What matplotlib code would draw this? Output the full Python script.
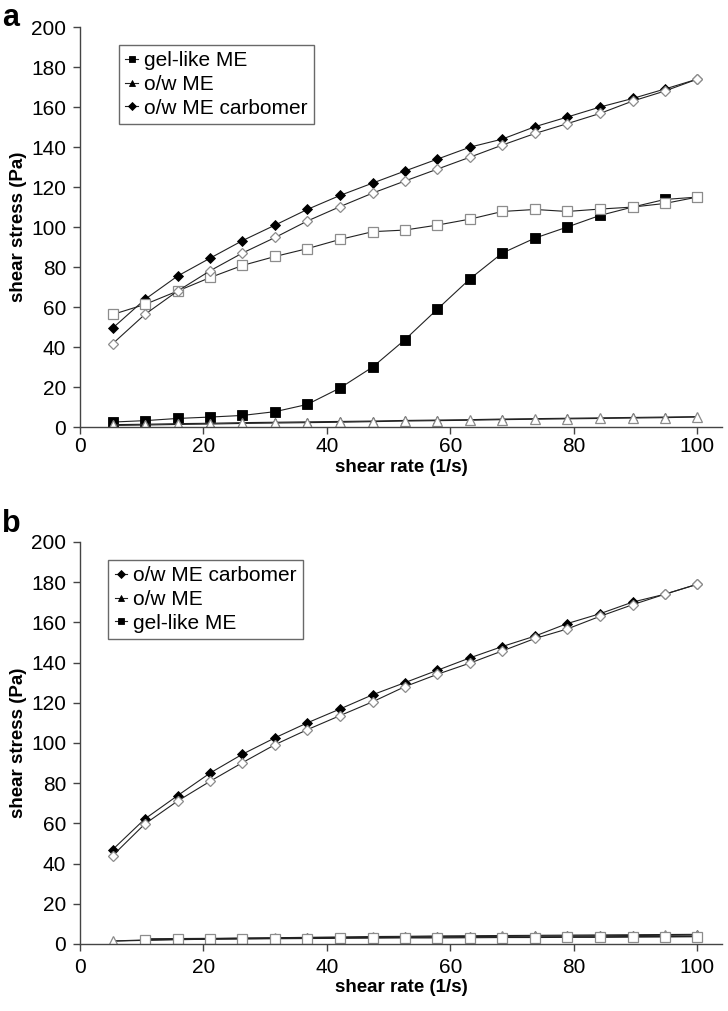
import matplotlib
matplotlib.use("Agg")
import matplotlib.pyplot as plt

plt.rcParams['font.family'] = ['Liberation Sans', 'DejaVu Sans']

shear_rate = [5.3, 10.5, 15.8, 21.1, 26.3, 31.6, 36.8, 42.1, 47.4, 52.6,
              57.9, 63.2, 68.4, 73.7, 78.9, 84.2, 89.5, 94.7, 100.0]

# Panel a
a_gel_up = [2.5, 3.2, 4.3, 5.0, 5.8, 7.7, 11.3, 19.5, 30.0, 43.6,
            59.0, 74.2, 87.0, 94.5, 100.0, 105.8, 110.0, 113.8, 115.0]
a_gel_down = [56.3, 61.3, 68.0, 74.8, 80.8, 85.3, 89.2, 93.8, 97.7, 98.5,
              101.0, 104.0, 107.8, 108.8, 107.8, 109.0, 110.0, 111.8, 115.0]
a_ow_up = [1.2, 1.4, 1.7, 1.9, 2.2, 2.4, 2.6, 2.8, 3.0, 3.3,
           3.5, 3.7, 4.0, 4.2, 4.4, 4.6, 4.8, 5.0, 5.2]
a_ow_down = [0.8, 1.0, 1.3, 1.5, 1.8, 2.0, 2.2, 2.4, 2.7, 3.0,
             3.2, 3.4, 3.7, 3.9, 4.1, 4.3, 4.5, 4.7, 5.0]
a_carb_up = [49.5, 63.8, 75.5, 84.5, 93.2, 101.0, 108.8, 115.8, 122.0, 128.0,
             134.0, 140.0, 144.0, 150.2, 155.0, 160.0, 164.3, 169.0, 174.0]
a_carb_down = [41.7, 56.3, 68.0, 78.2, 87.0, 94.8, 103.0, 110.2, 117.0, 123.0,
               129.0, 135.0, 141.0, 146.8, 151.7, 156.8, 163.0, 168.0, 174.0]

# Panel b
b_carb_up = [47.0, 62.2, 73.8, 85.1, 94.4, 102.6, 110.0, 116.9, 124.0, 130.0,
             136.2, 142.4, 148.0, 153.2, 159.4, 164.3, 170.1, 174.0, 179.0]
b_carb_down = [44.0, 59.7, 71.1, 81.0, 90.2, 99.2, 106.6, 113.6, 120.5, 128.0,
               134.2, 139.8, 145.8, 152.0, 156.7, 163.0, 168.8, 174.0, 179.0]
b_ow_up = [1.5, 2.0, 2.3, 2.6, 2.9, 3.1, 3.3, 3.5, 3.7, 3.8,
           4.0, 4.1, 4.2, 4.3, 4.4, 4.5, 4.6, 4.7, 4.8]
b_ow_down = [1.4, 1.8, 2.1, 2.4, 2.6, 2.8, 3.0, 3.2, 3.3, 3.5,
             3.6, 3.7, 3.8, 3.9, 4.0, 4.1, 4.2, 4.3, 4.4]
b_gel_rate = shear_rate[1:]
b_gel_up = [2.6, 2.7, 2.8, 2.9, 3.0, 3.1, 3.2, 3.2, 3.3, 3.4,
            3.4, 3.5, 3.5, 3.6, 3.6, 3.7, 3.7, 3.8]
b_gel_down = [2.2, 2.3, 2.4, 2.5, 2.6, 2.7, 2.8, 2.9, 3.0, 3.0,
              3.1, 3.2, 3.2, 3.3, 3.3, 3.4, 3.5, 3.6]

yticks = [0, 20, 40, 60, 80, 100, 120, 140, 160, 180, 200]
xticks = [0, 20, 40, 60, 80, 100]

LC = '#222222'
LW = 0.8
OPEN_EC = '#8c8c8c'

fig = plt.figure(figsize=(7.28, 10.11), dpi=100)
ax_a = fig.add_axes([0.1099, 0.5776, 0.882, 0.3956])
ax_b = fig.add_axes([0.1099, 0.0663, 0.882, 0.3976])


def filled(ax, x, y, m, ms, label=None):
    return ax.plot(x, y, color=LC, lw=LW, marker=m, ms=ms, mfc='black',
                   mec='black', mew=0.6, label=label)[0]


def opened(ax, x, y, m, ms):
    return ax.plot(x, y, color=LC, lw=LW, marker=m, ms=ms, mfc='white',
                   mec=OPEN_EC, mew=0.9)[0]


# Panel a
h1 = filled(ax_a, shear_rate, a_gel_up, 's', 6.5, 'gel-like ME')
h2 = filled(ax_a, shear_rate, a_ow_up, '^', 6, 'o/w ME')
h3 = filled(ax_a, shear_rate, a_carb_up, 'D', 5.5, 'o/w ME carbomer')
opened(ax_a, shear_rate, a_gel_down, 's', 7)
opened(ax_a, shear_rate, a_ow_down, '^', 7)
opened(ax_a, shear_rate, a_carb_down, 'D', 5.5)

# Panel b
g1 = filled(ax_b, shear_rate, b_carb_up, 'D', 5.5, 'o/w ME carbomer')
g2 = filled(ax_b, shear_rate, b_ow_up, '^', 6, 'o/w ME')
g3 = filled(ax_b, b_gel_rate, b_gel_up, 's', 3.5, 'gel-like ME')
opened(ax_b, shear_rate, b_carb_down, 'D', 5.5)
opened(ax_b, shear_rate, b_ow_down, '^', 7)
opened(ax_b, b_gel_rate, b_gel_down, 's', 7)

for ax in (ax_a, ax_b):
    ax.set_xlim(0, 104)
    ax.set_ylim(0, 200)
    ax.set_xticks(xticks)
    ax.set_yticks(yticks)
    ax.spines['top'].set_visible(False)
    ax.spines['right'].set_visible(False)
    for s in ('left', 'bottom'):
        ax.spines[s].set_color('#444444')
        ax.spines[s].set_linewidth(1.0)
    ax.tick_params(direction='out', length=5, width=1.0, color='#444444',
                   labelsize=15, pad=5)
    ax.set_xlabel('shear rate (1/s)', fontsize=13.5, fontweight='bold')
    ax.set_ylabel('shear stress (Pa)', fontsize=13.5, fontweight='bold')
    ax.yaxis.set_label_coords(-0.083, 0.5)

ax_a.tick_params(axis='x', pad=2.5)
ax_b.tick_params(axis='x', pad=5)
ax_a.xaxis.set_label_coords(0.5, -0.079)
ax_b.xaxis.set_label_coords(0.5, -0.087)

leg_kw = dict(fontsize=15, frameon=True, fancybox=False, handlelength=0.6,
              handletextpad=0.3, borderpad=0.3, labelspacing=0.22,
              borderaxespad=0)
la = ax_a.legend(handles=[h1, h2, h3], loc='upper left',
                 bbox_to_anchor=(0.061, 0.955), **leg_kw)
lb = ax_b.legend(handles=[g1, g2, g3], loc='upper left',
                 bbox_to_anchor=(0.044, 0.955), **leg_kw)
for lg in (la, lb):
    lg.get_frame().set_edgecolor('#444444')
    lg.get_frame().set_linewidth(1.0)
    for h in lg.legend_handles:
        h.set_markersize(4.5)

fig.text(0.003, 0.997, 'a', fontsize=22, fontweight='bold', va='top', ha='left')
fig.text(0.003, 0.497, 'b', fontsize=22, fontweight='bold', va='top', ha='left')

fig.savefig('out.png', dpi=100)
